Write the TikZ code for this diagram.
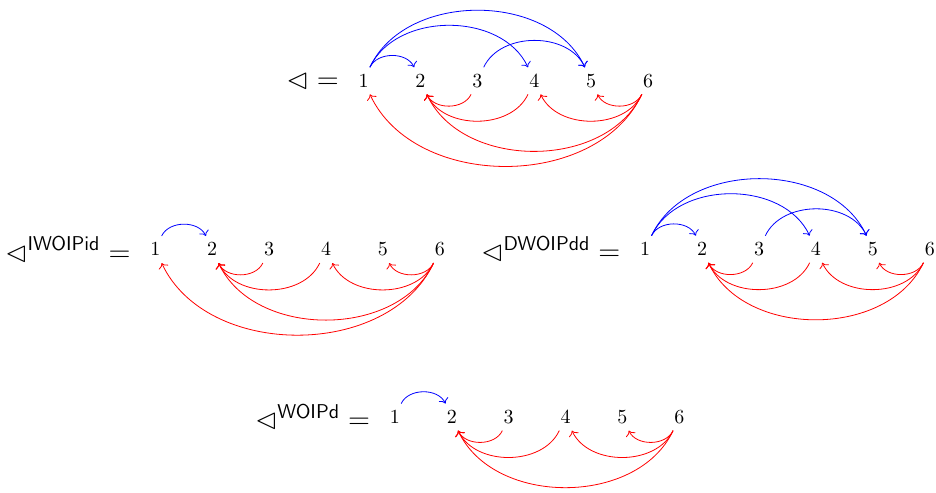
\documentclass[tikz,border=0pt]{standalone}
\usepackage{amssymb}
\usetikzlibrary{arrows.meta,positioning}
\newcommand{\ordtri}{\mathord{\vartriangleleft}}

\begin{document}
\begin{tikzpicture}[
  rellabel/.style={font=\Large},
  fwdarc/.style={->,blue,bend left=65},
  backarc/.style={->,red,bend left=65}
]
\useasboundingbox (0,0) rectangle (16.45,-8.65);
% top row
\foreach \i in {1,...,6}
  \node (t\i) at ({6.39+\i-1},-1.42) {$\i$};
\node[rellabel,left=0.1cm of t1] (tlab) {$\ordtri =$};
\draw[fwdarc] (t1) to (t2);
\draw[fwdarc] (t1) to (t4);
\draw[fwdarc] (t1) to (t5);
\draw[fwdarc] (t3) to (t5);
\draw[backarc] (t3) to (t2);
\draw[backarc] (t4) to (t2);
\draw[backarc] (t6) to (t2);
\draw[backarc] (t6) to (t4);
\draw[backarc] (t6) to (t5);
\draw[backarc] (t6) to (t1);
% middle left
\foreach \i in {1,...,6}
  \node (l\i) at ({2.73+\i-1},-4.385) {$\i$};
\node[rellabel,left=0.1cm of l1] (llab) {$\ordtri^{\mathsf{IWOIPid}} =$};
\draw[fwdarc] (l1) to (l2);
\draw[backarc] (l3) to (l2);
\draw[backarc] (l4) to (l2);
\draw[backarc] (l6) to (l2);
\draw[backarc] (l6) to (l4);
\draw[backarc] (l6) to (l5);
\draw[backarc] (l6) to (l1);
% middle right
\foreach \i in {1,...,6}
  \node (r\i) at ({11.34+\i-1},-4.38) {$\i$};
\node[rellabel,left=0.1cm of r1] (rlab) {$\ordtri^{\mathsf{DWOIPdd}} =$};
\draw[fwdarc] (r1) to (r2);
\draw[fwdarc] (r1) to (r4);
\draw[fwdarc] (r1) to (r5);
\draw[fwdarc] (r3) to (r5);
\draw[backarc] (r3) to (r2);
\draw[backarc] (r4) to (r2);
\draw[backarc] (r6) to (r2);
\draw[backarc] (r6) to (r4);
\draw[backarc] (r6) to (r5);
% bottom
\foreach \i in {1,...,6}
  \node (b\i) at ({6.94+\i-1},-7.33) {$\i$};
\node[rellabel,left=0.1cm of b1] (blab) {$\ordtri^{\mathsf{WOIPd}} =$};
\draw[fwdarc] (b1) to (b2);
\draw[backarc] (b3) to (b2);
\draw[backarc] (b4) to (b2);
\draw[backarc] (b6) to (b2);
\draw[backarc] (b6) to (b4);
\draw[backarc] (b6) to (b5);
\end{tikzpicture}
\end{document}
